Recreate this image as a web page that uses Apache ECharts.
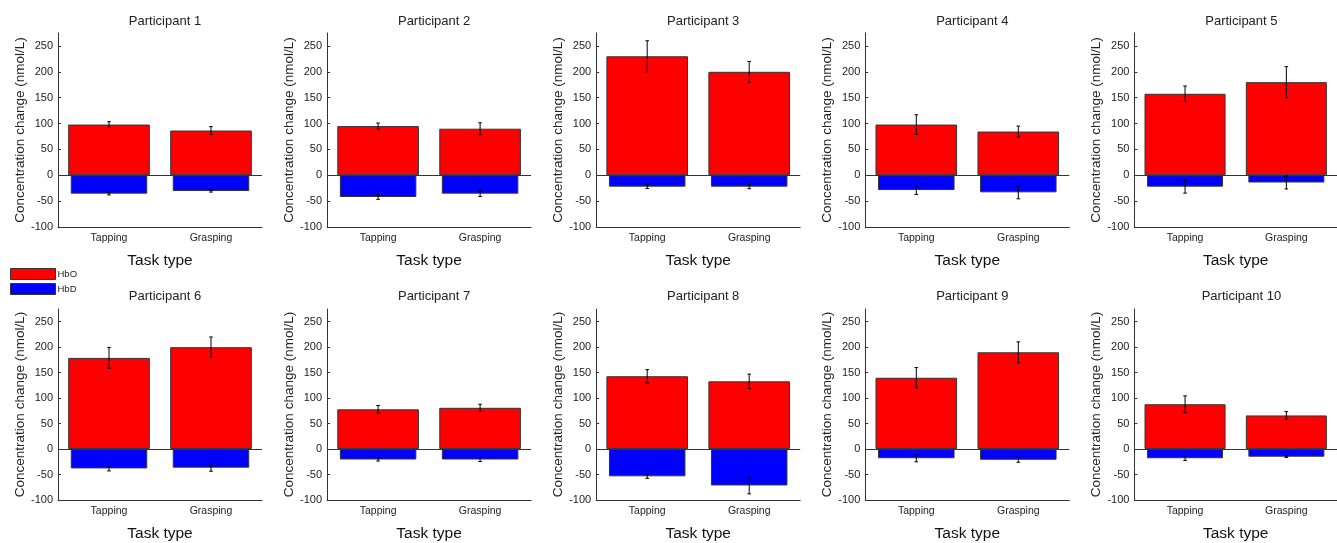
<!DOCTYPE html>
<html>
<head>
<meta charset="utf-8">
<script src="https://cdn.jsdelivr.net/npm/echarts@6/dist/echarts.min.js"></script>
<style>
html,body{margin:0;padding:0;background:#fff;}
#chart{width:1337px;height:543px;}
</style>
</head>
<body>
<div id="chart"></div>
<script>
const participants = ['Participant 1','Participant 2','Participant 3','Participant 4','Participant 5',
  'Participant 6','Participant 7','Participant 8','Participant 9','Participant 10'];
const tasks = ['Tapping','Grasping'];
const seriesNames = ['HbO','HbD'];
const hboMean = [[98,86.5],[95,90],[230,200],[98,84.5],[157.5,180],[179,200],[78,81],[143,133],[140,190],[88,66]];
const hboErr  = [[5.5,7.5],[6,11.5],[30,20],[19,10.5],[15,30],[20.5,20],[7.5,7],[13,14],[20,20.5],[16.5,7.5]];
const hbdMean = [[-35.5,-30.5],[-42,-35.5],[-22,-22],[-28.5,-33],[-22,-14],[-38,-36.5],[-20.5,-20.5],[-53.5,-71.5],[-18,-21],[-18,-15]];
const hbdErr  = [[2.5,2],[4.5,5.5],[3.5,4],[8.5,12.5],[12.5,12.5],[5,7],[3,4],[4,16.5],[7,5],[4.5,1.5]];
const yTicks = [-100,-50,0,50,100,150,200,250];
const yLabel = 'Concentration change (nmol/L)';
const xLabel = 'Task type';

const FONT = "'Liberation Sans', Arial, sans-serif";
const AX = '#333';
const chart = echarts.init(document.getElementById('chart'));

const grids = [], xAxes = [], yAxes = [], series = [], titles = [];

function errRender(params, api) {
  const x = api.value(0), lo = api.value(1), hi = api.value(2);
  const p1 = api.coord([x, hi]), p2 = api.coord([x, lo]);
  const c = 1.8;
  const st = {stroke:'#000', lineWidth:1};
  return {type:'group', children:[
    {type:'line', shape:{x1:p1[0],y1:p1[1],x2:p2[0],y2:p2[1]}, style:st},
    {type:'line', shape:{x1:p1[0]-c,y1:p1[1],x2:p1[0]+c,y2:p1[1]}, style:st},
    {type:'line', shape:{x1:p2[0]-c,y1:p2[1],x2:p2[0]+c,y2:p2[1]}, style:st}
  ]};
}

participants.forEach((name, i) => {
  const row = Math.floor(i / 5), col = i % 5;
  const left = 58 + col * 269.1;
  const top = row ? 309 : 33;
  const width = 204, height = row ? 193.5 : 194;
  grids.push({left, top, width, height, containLabel:false});
  titles.push({text:name, left:left + width/2, top: row ? 285 : 10, textAlign:'center',
    textStyle:{fontFamily:FONT, fontSize:13, fontWeight:'normal', color:'#222'}});
  const xBase = {type:'category', gridIndex:i, data:tasks, boundaryGap:true};
  xAxes.push(Object.assign({}, xBase, {
    axisLine:{onZero:false, lineStyle:{color:AX, width:1}},
    axisTick:{inside:true, length:4, alignWithLabel:true, lineStyle:{color:AX}},
    axisLabel:{fontFamily:FONT, fontSize:10.5, color:'#222', margin:6},
    name:xLabel, nameLocation:'middle', nameGap:26,
    nameTextStyle:{fontFamily:FONT, fontSize:15.5, color:'#111'}
  }));
  xAxes.push(Object.assign({}, xBase, {show:false}));
  yAxes.push({type:'value', gridIndex:i, min:-100, max:275, interval:50,
    splitLine:{show:false},
    axisLine:{show:true, lineStyle:{color:AX, width:1}},
    axisTick:{show:true, inside:true, length:3, lineStyle:{color:AX}, customValues:yTicks},
    axisLabel:{fontFamily:FONT, fontSize:11, color:'#222', margin:5, customValues:yTicks},
    name:yLabel, nameLocation:'middle', nameGap:30, nameRotate:90,
    nameTextStyle:{fontFamily:FONT, fontSize:13.5, color:'#222'}
  });
  series.push({name:seriesNames[0], type:'bar', xAxisIndex:2*i, yAxisIndex:i, barWidth:'80%',
    data:hboMean[i], itemStyle:{color:'#ff0000', borderColor:'#333', borderWidth:1}, z:2,
    markLine:{silent:true, symbol:'none', animation:false, label:{show:false},
      lineStyle:{color:AX, width:1, type:'solid'}, data:[{yAxis:0}]}});
  series.push({name:seriesNames[1], type:'bar', xAxisIndex:2*i+1, yAxisIndex:i, barWidth:'75%',
    data:hbdMean[i], itemStyle:{color:'#0000ff', borderColor:'#333', borderWidth:1}, z:2});
  series.push({type:'custom', xAxisIndex:2*i, yAxisIndex:i, renderItem:errRender, z:5, silent:true,
    encode:{x:0, y:[1,2]},
    data:tasks.map((t, k) => [k, hboMean[i][k]-hboErr[i][k], hboMean[i][k]+hboErr[i][k]])});
  series.push({type:'custom', xAxisIndex:2*i+1, yAxisIndex:i, renderItem:errRender, z:5, silent:true,
    encode:{x:0, y:[1,2]},
    data:tasks.map((t, k) => [k, hbdMean[i][k]-hbdErr[i][k], hbdMean[i][k]+hbdErr[i][k]])});
});

chart.setOption({
  animation:false,
  backgroundColor:'#fff',
  title:titles,
  legend:{data:seriesNames, orient:'vertical', left:5, top:263, itemWidth:45, itemHeight:11, itemGap:3,
    icon:'rect', selectedMode:false,
    itemStyle:{borderColor:'#333', borderWidth:1},
    textStyle:{fontFamily:FONT, fontSize:9.5, color:'#222', padding:[0,0,0,-3]}},
  grid:grids, xAxis:xAxes, yAxis:yAxes, series
});
</script>
</body>
</html>
